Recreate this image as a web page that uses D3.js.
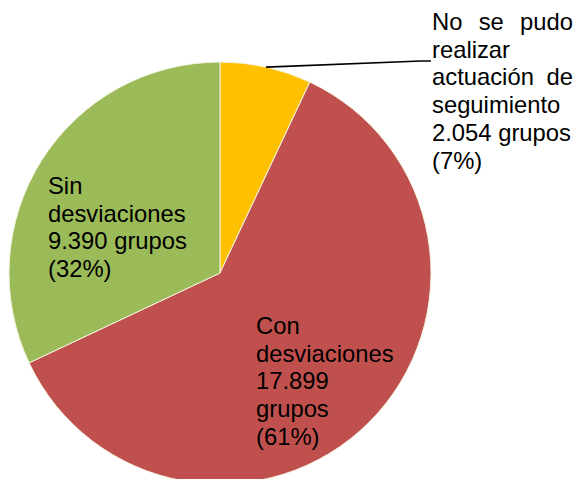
<!DOCTYPE html>
<html>
<head>
<meta charset="utf-8">
<style>
  body { margin:0; background:#fff; }
  svg { display:block; }
  .label { font-family: "Liberation Sans", Arial, sans-serif; font-size:23.8px; fill:#000; }
  .slice { stroke:#f4f4e0; stroke-width:1; }
  .leader { fill:none; stroke:#000; stroke-width:1.6; }
</style>
</head>
<body>
<svg width="579" height="479"></svg>
<script src="https://cdn.jsdelivr.net/npm/d3@7"></script>
<script>

// data
var categories = ["No se pudo realizar actuación de seguimiento", "Con desviaciones", "Sin desviaciones"];
var values = [2054, 17899, 9390];
var percents = ["7%", "61%", "32%"];
var colors = ["#FFC000", "#C0504D", "#9BBB59"];

// label lines as shown in the chart
var labelLines = [
  ["No se pudo", "realizar", "actuación de", "seguimiento", "2.054 grupos", "(7%)"],
  ["Con", "desviaciones", "17.899", "grupos", "(61%)"],
  ["Sin", "desviaciones", "9.390 grupos", "(32%)"]
];

// layout
var cx = 220, cy = 273, radius = 211
var lineH = 27.7
var labelPos = [
  {x: 432, y: 30, width: 141, justify: [0, 2]},
  {x: 256, y: 334},
  {x: 48, y: 194}
]

var svg = d3.select("svg")

var pie = d3.pie().sort(null).value(function(d) { return d })
var arc = d3.arc().innerRadius(0).outerRadius(radius)

var g = svg.append("g")
  .attr("transform", "translate(" + cx + "," + cy + ")")

var arcs = pie(values)

g.selectAll(".slice")
  .data(arcs)
  .enter().append("path")
  .attr("class", "slice")
  .attr("fill", function(d, i) { return colors[i] })
  .attr("d", arc)

// leader line for the small slice
var a0 = arcs[0]
var mid = a0.startAngle + (a0.endAngle - a0.startAngle) * 0.5
var px = cx + radius * Math.sin(mid), py = cy - radius * Math.cos(mid)
svg.append("path")
  .attr("class", "leader")
  .attr("d", "M" + px + "," + py + "L" + (labelPos[0].x - 11) + ",61L" + (labelPos[0].x - 1) + ",61")

// labels
labelLines.forEach(function(lines, i) {
  var p = labelPos[i]
  var t = svg.append("g").attr("class", "label")
  lines.forEach(function(line, j) {
    var y = p.y + j * lineH
    if (p.justify && p.justify.indexOf(j) >= 0) {
      var words = line.split(" ")
      var nodes = words.map(function(w) {
        return t.append("text").attr("y", y).text(w)
      })
      var total = d3.sum(nodes, function(n) { return n.node().getComputedTextLength() })
      var gap = (p.width - total) / (words.length - 1)
      var x = p.x
      nodes.forEach(function(n) {
        n.attr("x", x)
        x += n.node().getComputedTextLength() + gap
      })
    } else {
      t.append("text").attr("x", p.x).attr("y", y).text(line)
    }
  })
})

</script>
</body>
</html>
